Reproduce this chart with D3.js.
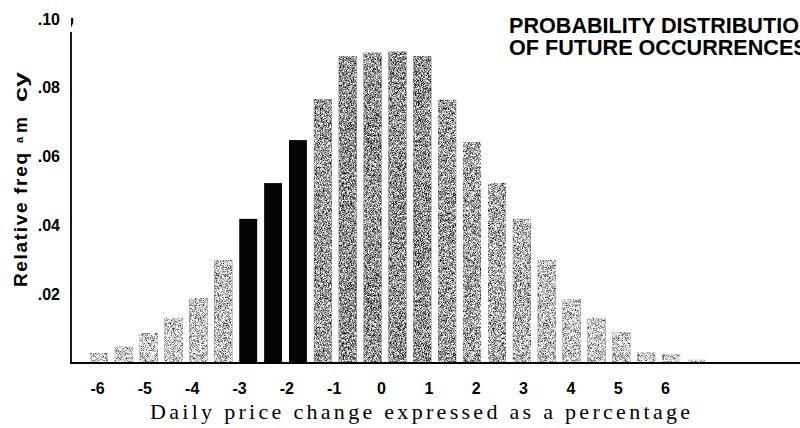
<!DOCTYPE html>
<html>
<head>
<meta charset="utf-8">
<script src="https://cdn.jsdelivr.net/npm/d3@7/dist/d3.min.js"></script>
<style>
  html, body { margin: 0; padding: 0; background: #fff; }
  svg { display: block; }
</style>
</head>
<body>
<svg id="chart" width="800" height="428"></svg>
<script>
// ---- data ----
const bins = [-6, -5.5, -5, -4.5, -4, -3.5, -3, -2.5, -2, -1.5, -1, -0.5, 0, 0.5, 1, 1.5, 2, 2.5, 3, 3.5, 4, 4.5, 5, 5.5, 6];
const freq = [0.0029, 0.0047, 0.0087, 0.0131, 0.0189, 0.0299, 0.0419, 0.0523, 0.0648, 0.0767, 0.0892, 0.0902, 0.0905, 0.0892, 0.0765, 0.0642, 0.0523, 0.0419, 0.0299, 0.0186, 0.0131, 0.0090, 0.0032, 0.0026, 0.0009];
const highlighted = [-3, -2.5, -2];
const xTicks = [-6, -5, -4, -3, -2, -1, 0, 1, 2, 3, 4, 5, 6];
const xTickLabels = ["-6", "-5", "-4", "-3", "-2", "-1", "0", "1", "2", "3", "4", "5", "6"];
const yTicks = [0.02, 0.04, 0.06, 0.08, 0.10];
const yTickLabels = [".02", ".04", ".06", ".08", ".10"];
const titleLines = ["PROBABILITY DISTRIBUTION", "OF FUTURE OCCURRENCES"];
const xTitle = "Daily price change expressed as a percentage";

// ---- layout ----
const svg = d3.select("#chart");
const sans = "'Liberation Sans', Arial, Helvetica, sans-serif";
const serif = "'Liberation Serif', 'Times New Roman', serif";

const x = d3.scaleBand().domain(bins).range([86.5, 708.4]).paddingInner(0.28).paddingOuter(0.14);
const xLab = d3.scaleLinear().domain([-6, 6]).range([97, 665]);
const y = d3.scaleLinear().domain([0, 0.1]).range([363, 19]);
const axisX = 71;
const shade = d3.scaleLinear().domain([0, 0.09]).range(["#d8d8d8", "#929292"]);

// stipple filter
const defs = svg.append("defs");
const f = defs.append("filter").attr("id", "stipple")
  .attr("x", 0).attr("y", 0).attr("width", "100%").attr("height", "100%")
  .attr("color-interpolation-filters", "sRGB");
f.append("feTurbulence").attr("type", "fractalNoise").attr("baseFrequency", 1.6)
  .attr("numOctaves", 1).attr("seed", 11).attr("result", "noise");
f.append("feColorMatrix").attr("in", "noise").attr("type", "matrix")
  .attr("values", "1 0 0 0 0  1 0 0 0 0  1 0 0 0 0  0 0 0 0 1").attr("result", "gray");
f.append("feComposite").attr("in", "SourceGraphic").attr("in2", "gray")
  .attr("operator", "arithmetic").attr("k1", 0).attr("k2", 1).attr("k3", 2.4).attr("k4", -1.2)
  .attr("result", "mix");
f.append("feComposite").attr("in", "mix").attr("in2", "SourceAlpha").attr("operator", "in");

const data = bins.map((b, i) => ({ bin: b, value: freq[i] }));

// gray bars
svg.append("g").attr("filter", "url(#stipple)")
  .selectAll("rect")
  .data(data.filter(d => !highlighted.includes(d.bin)))
  .join("rect")
  .attr("x", d => x(d.bin))
  .attr("width", x.bandwidth())
  .attr("y", d => y(d.value))
  .attr("height", d => y(0) - y(d.value))
  .attr("fill", d => shade(d.value));

// highlighted (black) bars
svg.append("g")
  .selectAll("rect")
  .data(data.filter(d => highlighted.includes(d.bin)))
  .join("rect")
  .attr("x", d => x(d.bin))
  .attr("width", x.bandwidth())
  .attr("y", d => y(d.value))
  .attr("height", d => y(0) - y(d.value))
  .attr("fill", "#050505");

// baseline and y axis line
svg.append("line")
  .attr("x1", axisX - 1).attr("x2", 800)
  .attr("y1", y(0)).attr("y2", y(0))
  .attr("stroke", "#000").attr("stroke-width", 2);
svg.append("line")
  .attr("x1", axisX).attr("x2", axisX)
  .attr("y1", y(0.1) + 13).attr("y2", y(0))
  .attr("stroke", "#000").attr("stroke-width", 1.8);
// small mark at top of axis
svg.append("path")
  .attr("d", `M${axisX},${y(0.1) - 1} l2.2,0 l0,5 l-2.2,4.5 z`)
  .attr("fill", "#000");

// y axis labels
const yAxis = d3.axisLeft(y).tickValues(yTicks)
  .tickFormat((d, i) => yTickLabels[i]).tickSize(0).tickPadding(11);
const gy = svg.append("g").attr("transform", `translate(${axisX},0)`).call(yAxis);
gy.select(".domain").remove();
gy.selectAll("text")
  .attr("font-family", sans).attr("font-size", 16).attr("font-weight", "bold").attr("fill", "#000");

// x axis labels
const xAxis = d3.axisBottom(xLab).tickValues(xTicks)
  .tickFormat((d, i) => xTickLabels[i]).tickSize(0).tickPadding(20);
const gx = svg.append("g").attr("transform", `translate(0,${y(0)})`).call(xAxis);
gx.select(".domain").remove();
gx.selectAll("text")
  .attr("font-family", sans).attr("font-size", 16).attr("font-weight", "bold").attr("fill", "#000");

// x title
svg.append("text")
  .attr("x", 150).attr("y", 419)
  .attr("textLength", 540).attr("lengthAdjust", "spacing")
  .attr("font-family", serif).attr("font-size", 22).attr("fill", "#000")
  .text(xTitle);

// y title (as printed)
const yt = svg.append("g").attr("transform", "translate(27,287) rotate(-90)")
  .attr("font-family", sans).attr("font-weight", "bold").attr("fill", "#000");
yt.append("text").attr("x", 0).attr("y", 0).attr("font-size", 19)
  .attr("textLength", 134).attr("lengthAdjust", "spacing").text("Relative freq");
yt.append("text").attr("x", 144).attr("y", -4).attr("font-size", 11).text("a");
yt.append("text").attr("x", 154).attr("y", 0).attr("font-size", 19)
  .attr("textLength", 16).attr("lengthAdjust", "spacingAndGlyphs").text("m");
yt.append("text").attr("x", 185).attr("y", 0).attr("font-size", 19)
  .attr("textLength", 30).attr("lengthAdjust", "spacingAndGlyphs").text("cy");

// title
svg.append("g").selectAll("text")
  .data(titleLines)
  .join("text")
  .attr("x", 509)
  .attr("y", (d, i) => 33 + i * 21.5)
  .attr("font-family", sans).attr("font-size", 21.6).attr("font-weight", "bold")
  .attr("fill", "#000")
  .text(d => d);
</script>
</body>
</html>
